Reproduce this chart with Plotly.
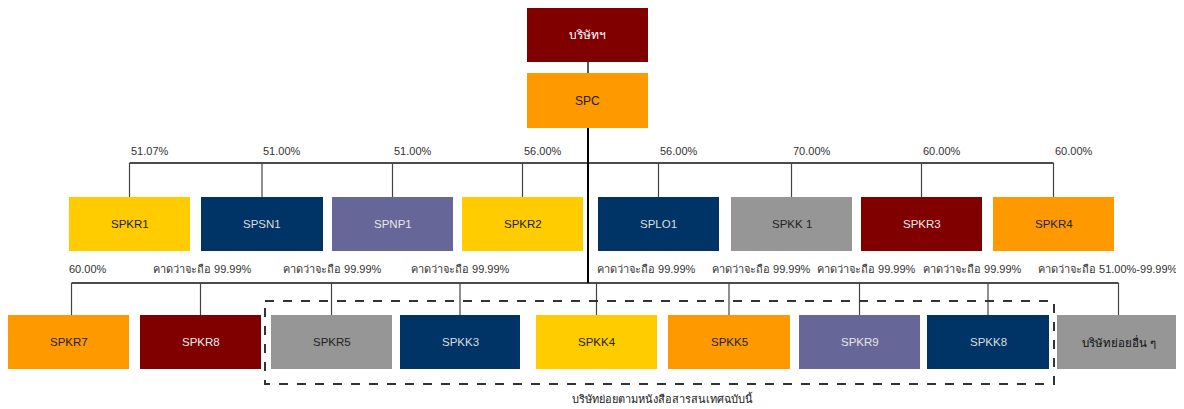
import plotly.graph_objects as go

# ---------------- data ----------------
top_names = ["บริษัทฯ", "SPC"]
row1_names = ["SPKR1", "SPSN1", "SPNP1", "SPKR2", "SPLO1", "SPKK 1", "SPKR3", "SPKR4"]
row1_pct = ["51.07%", "51.00%", "51.00%", "56.00%", "56.00%", "70.00%", "60.00%", "60.00%"]
row2_names = ["SPKR7", "SPKR8", "SPKR5", "SPKK3", "SPKK4", "SPKK5", "SPKR9", "SPKK8", "บริษัทย่อยอื่น ๆ"]
row2_pct = ["60.00%", "คาดว่าจะถือ 99.99%", "คาดว่าจะถือ 99.99%", "คาดว่าจะถือ 99.99%",
            "คาดว่าจะถือ 99.99%", "คาดว่าจะถือ 99.99%", "คาดว่าจะถือ 99.99%",
            "คาดว่าจะถือ 99.99%", "คาดว่าจะถือ 51.00%-99.99%"]
caption = "บริษัทย่อยตามหนังสือสารสนเทศฉบับนี้"

# ---------------- layout / style ----------------
W, H = 1184, 409
OFF = 8  # page body margin compensation
RED, ORG, GOLD, NAVY, PURP, GREY = "#800000", "#FF9900", "#FFCC00", "#003366", "#666699", "#969696"
top_style = [(RED, "white"), (ORG, "#222222")]
top_x = [(527, 648), (527, 648)]
top_y = [(8, 62), (73, 128)]

row1_x = [(69, 190), (201, 323), (332, 453), (462, 583), (598, 719), (731, 852), (861, 982), (993, 1114)]
row1_y = (197, 251)
row1_style = [(GOLD, "#222222"), (NAVY, "#dddddd"), (PURP, "#e6e6e6"), (GOLD, "#222222"),
              (NAVY, "#dddddd"), (GREY, "#222222"), (RED, "#eeeeee"), (ORG, "#222222")]
row1_line_y = 163
row1_pct_y = 151

row2_x = [(8, 129), (140, 261), (271, 392), (400, 520), (536, 657), (668, 790), (799, 920), (927, 1049), (1057, 1180)]
row2_y = (315, 369)
row2_style = [(ORG, "#222222"), (RED, "#eeeeee"), (GREY, "#222222"), (NAVY, "#dddddd"), (GOLD, "#222222"),
              (ORG, "#222222"), (PURP, "#e6e6e6"), (NAVY, "#dddddd"), (GREY, "#111111")]
row2_line_y = 283
row2_pct_y = 269
row2_pct_x0 = [67, 151, 281, 409, 595, 710, 815, 921, 1036]
main_x = 588

FONT = "Liberation Sans, Arial, Noto Sans, sans-serif"

fig = go.Figure()
shapes, annos = [], []


def box(x0, x1, y0, y1, fill, tcolor, text, size=11.5):
    shapes.append(dict(type="rect", xref="x", yref="y", x0=x0, x1=x1, y0=y0, y1=y1,
                       fillcolor=fill, line=dict(width=0), layer="above"))
    annos.append(dict(x=(x0 + x1) / 2, y=(y0 + y1) / 2, xref="x", yref="y", text=text,
                      showarrow=False, font=dict(family=FONT, size=size, color=tcolor)))


def line(x0, y0, x1, y1, color="#333333", width=1.2, dash=None):
    ln = dict(color=color, width=width)
    if dash:
        ln["dash"] = dash
    shapes.append(dict(type="line", xref="x", yref="y", x0=x0, y0=y0, x1=x1, y1=y1, line=ln, layer="below"))


# connectors
line(main_x, top_y[0][1], main_x, top_y[1][0], "#222222", 1.5)
line(main_x, top_y[1][1], main_x, row2_line_y, "#000000", 2)
r1c = [(a + b) / 2 for a, b in row1_x]
r2c = [(a + b) / 2 for a, b in row2_x]
line(r1c[0], row1_line_y, r1c[-1], row1_line_y, "#111111", 1.5)
for c in r1c:
    line(c, row1_line_y, c, row1_y[0], "#444444", 1.2)
line(r2c[0] + 3, row2_line_y, r2c[-1], row2_line_y, "#111111", 1.5)
for i, c in enumerate(r2c):
    cc = c + 3 if i == 0 else c
    line(cc, row2_line_y, cc, row2_y[0], "#444444", 1.2)

# dashed frame
shapes.append(dict(type="rect", xref="x", yref="y", x0=265, x1=1054, y0=301, y1=384,
                   line=dict(color="#333333", width=2, dash="dash"), fillcolor="rgba(0,0,0,0)", layer="below"))

# boxes
for (x0, x1), (y0, y1), (f, t), n in zip(top_x, top_y, top_style, top_names):
    box(x0, x1, y0, y1, f, t, n, 12)
for (x0, x1), (f, t), n in zip(row1_x, row1_style, row1_names):
    box(x0, x1, row1_y[0], row1_y[1], f, t, n)
for (x0, x1), (f, t), n in zip(row2_x, row2_style, row2_names):
    box(x0, x1, row2_y[0], row2_y[1], f, t, n)

# percentage labels
for c, p in zip(r1c, row1_pct):
    annos.append(dict(x=c + 20, y=row1_pct_y, xref="x", yref="y", text=p, showarrow=False,
                      font=dict(family=FONT, size=11, color="#333333")))
for x0, p in zip(row2_pct_x0, row2_pct):
    annos.append(dict(x=x0, y=row2_pct_y, xref="x", yref="y", text=p, showarrow=False, xanchor="left",
                      font=dict(family=FONT, size=11, color="#333333")))
annos.append(dict(x=662, y=398, xref="x", yref="y", text=caption, showarrow=False,
                  font=dict(family=FONT, size=11, color="#222222")))

fig.update_layout(
    width=W, height=H, margin=dict(l=0, r=0, t=0, b=0),
    paper_bgcolor="white", plot_bgcolor="white",
    xaxis=dict(range=[OFF, W + OFF], visible=False, fixedrange=True),
    yaxis=dict(range=[H + OFF, OFF], visible=False, fixedrange=True),
    shapes=shapes, annotations=annos, showlegend=False,
)
fig.write_html("out.html")
